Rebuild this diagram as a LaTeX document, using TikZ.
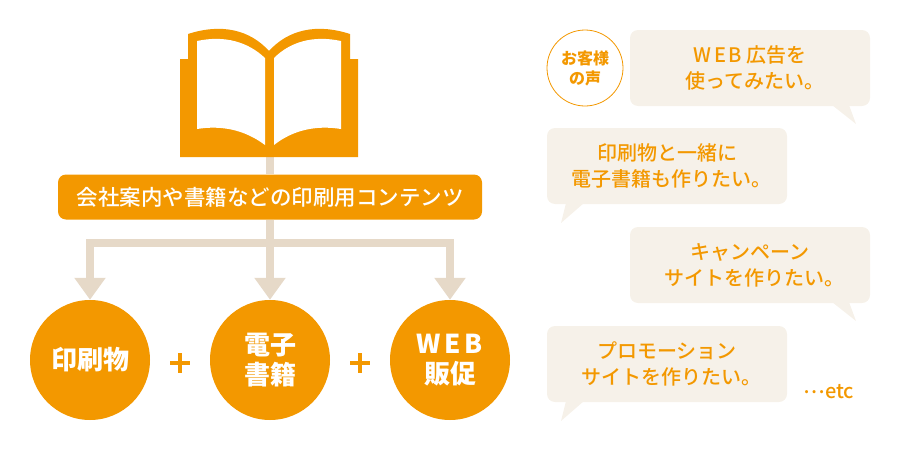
\documentclass[tikz,border=0pt]{standalone}
\usepackage{fontspec}
\setmainfont{Noto Sans CJK JP Medium}
\newfontfamily\wideface[LetterSpace=12]{Noto Sans CJK JP Medium}
\newfontfamily\heavyface{Noto Sans CJK JP}
\newfontfamily\heavywide[LetterSpace=14]{Noto Sans CJK JP}
\newcommand{\tenmaru}{。\kern-9pt}
\usetikzlibrary{arrows.meta}
\definecolor{mainorange}{HTML}{F39800}
\definecolor{linkbeige}{HTML}{E6D9C8}
\definecolor{bubblebeige}{HTML}{F6F1E9}
\begin{document}
\begin{tikzpicture}[x=1pt, y=-1pt,
    banner/.style = {fill=mainorange, rounded corners=8pt, minimum width=424pt, minimum height=45pt, text=white, font=\fontsize{21.5}{26}\selectfont},
    main/.style = {circle, fill=mainorange, minimum size=120pt, inner sep=0pt, text=white, align=center, font=\heavyface\bfseries\fontsize{26}{30}\selectfont},
    plus/.style = {fill=mainorange, inner sep=0pt, minimum width=20pt, minimum height=3.2pt},
    plusbar/.style = {plus, minimum width=3.2pt, minimum height=20pt},
    link/.style = {draw=linkbeige, line width=8pt},
    linkhead/.style = {link, -{Triangle[length=22pt, width=30pt]}},
    bubble/.style = {fill=bubblebeige, rounded corners=8pt, minimum width=240pt, minimum height=76pt, text=mainorange, align=center, font=\fontsize{20}{26}\selectfont},
    tail/.style = {fill=bubblebeige},
    voice/.style = {circle, draw=mainorange, fill=white, line width=0.8pt, minimum size=76pt, inner sep=0pt, text=mainorange, align=center, font=\heavyface\bfseries\fontsize{16}{20}\selectfont}]
    \useasboundingbox (0,0) rectangle (900,450);

    % book
    \coordinate (book) at (270,150);
    \node[banner] (label) at (270,197) {会社案内や書籍などの印刷用コンテンツ};
    \coordinate (fork) at (270,243);
    \node[main] (print) at (90,360) {印刷物};
    \node[main] (ebook) at (270,360) {電子\\書籍};
    \node[main] (promo) at (450,360) {{\heavywide\bfseries WEB}\\販促};

    \draw[link] (book) -- (label);
    \draw[link] (label) -- (fork);
    \draw[linkhead] (fork) -| (print);
    \draw[linkhead] (fork) -- (ebook);
    \draw[linkhead] (fork) -| (promo);

    \fill[mainorange] (180,157) -- (180,59) -- (188,59) -- (188,34) .. controls (222,23) and (250,30) .. (269,51) .. controls (288,30) and (316,23) .. (350,34) -- (350,59) -- (358,59) -- (358,157) -- cycle;
    \fill[white] (197,41) .. controls (225,35) and (248,42) .. (265,58) -- (265,145) .. controls (245,130) and (222,125) .. (197,129) -- cycle;
    \fill[white] (341,41) .. controls (313,35) and (290,42) .. (274,58) -- (274,145) .. controls (293,130) and (316,125) .. (341,129) -- cycle;

    \node[plus] (plus1) at (180,363) {};
    \node[plusbar] at (180,363) {};
    \node[plus] (plus2) at (360,363) {};
    \node[plusbar] at (360,363) {};

    % voices
    \node[voice] (voice) at (585,68) {お客様\\の声};

    \fill[tail] (832,105) -- (856,124) -- (849,105) -- cycle;
    \node[bubble] (b1) at (750,68) {{\wideface WEB} 広告を\\使ってみたい\tenmaru};

    \fill[tail] (584,203) -- (561,223) -- (566,203) -- cycle;
    \node[bubble] (b2) at (667,166) {印刷物と一緒に\\電子書籍も作りたい\tenmaru};

    \fill[tail] (832,302) -- (856,321) -- (849,302) -- cycle;
    \node[bubble] (b3) at (750,265) {キャンペーン\\サイトを作りたい\tenmaru};

    \fill[tail] (584,401) -- (561,421) -- (566,401) -- cycle;
    \node[bubble] (b4) at (667,364) {プロモーション\\サイトを作りたい\tenmaru};

    \node[text=mainorange, inner sep=0pt, font=\fontsize{20}{22}\selectfont] (etc) at (829,392) {\raisebox{5pt}{…}etc};
\end{tikzpicture}
\end{document}
